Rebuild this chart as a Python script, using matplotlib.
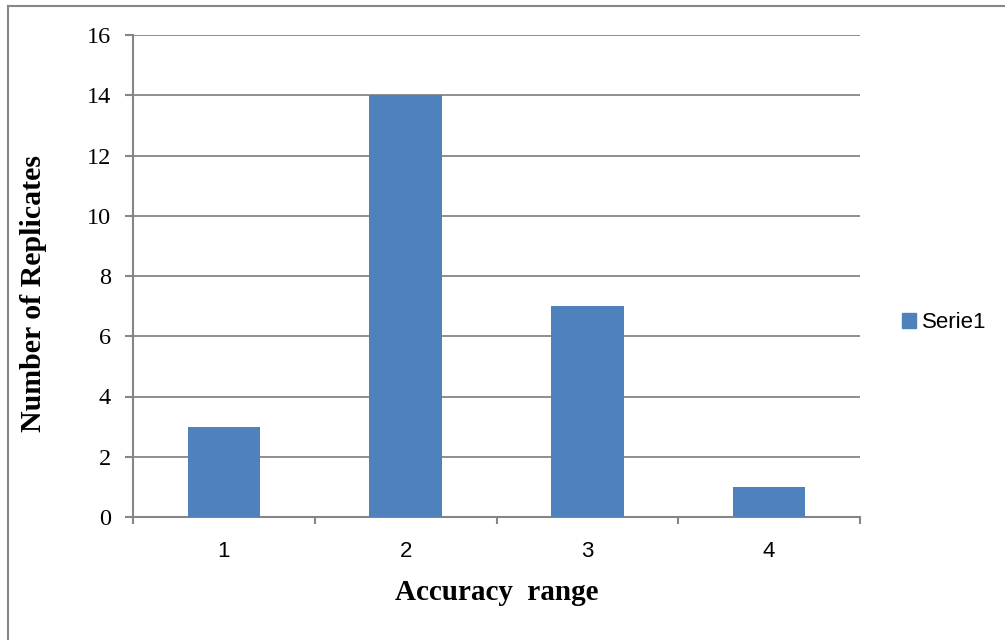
import matplotlib
matplotlib.use("Agg")
import matplotlib.pyplot as plt
from matplotlib.lines import Line2D
from matplotlib.patches import Patch

categories = ["1", "2", "3", "4"]
values = [3, 14, 7, 1]
yticks = [0, 2, 4, 6, 8, 10, 12, 14, 16]
series_name = "Serie1"

bar_color = "#4F81BD"
grid_color = "#868686"

fig = plt.figure(figsize=(10.05, 6.4), dpi=100)
ax = fig.add_axes([133/1005, 1-517/640, 727/1005, 482/640])

x = list(range(len(categories)))
ax.bar(x, values, width=0.40, color=bar_color, zorder=3)
ax.set_xlim(-0.5, len(categories) - 0.5)
ax.set_ylim(0, 16)

ax.set_yticks(yticks)
ax.set_yticklabels([str(v) for v in yticks], family="Liberation Serif", fontsize=17.5)
ax.tick_params(axis="y", length=5.8, width=1.5, color=grid_color, pad=10)
ax.yaxis.grid(True, color=grid_color, linewidth=1.3, zorder=0)

ax.set_xticks(x)
ax.set_xticklabels(categories, family="Liberation Sans", fontsize=16)
ax.tick_params(axis="x", length=0, pad=17)
# category boundary ticks
ax.set_xticks([i - 0.5 for i in range(len(categories) + 1)], minor=True)
ax.tick_params(axis="x", which="minor", length=5, width=1.5, color=grid_color)

for side in ["top", "right"]:
    ax.spines[side].set_visible(False)
for side in ["left", "bottom"]:
    ax.spines[side].set_color(grid_color)
    ax.spines[side].set_linewidth(1.5)

ax.set_ylabel("Number of Replicates", family="Liberation Serif", fontweight="bold",
              fontsize=21.5)
ax.yaxis.set_label_coords(-(133 - 34) / 727, (517 - 294) / 482)
ax.set_xlabel("Accuracy  range", family="Liberation Serif", fontweight="bold",
              fontsize=21)
ax.xaxis.set_label_coords(0.5, -(592 - 517) / 482)
ax.xaxis.label.set_va("center")
ax.yaxis.label.set_va("center")

leg = fig.legend(handles=[Patch(color=bar_color, label=series_name)],
                 loc="center left", bbox_to_anchor=(884/1005, 1-323/640),
                 frameon=False, prop={"family": "Liberation Sans", "size": 16},
                 handlelength=0.63, handleheight=0.63, handletextpad=0.3,
                 borderpad=0.3)

# outer chart border (top and left visible)
fig.add_artist(Line2D([7.5/1005, 7.5/1005], [0, 1-5.5/640], color=grid_color, lw=1.5,
                      transform=fig.transFigure))
fig.add_artist(Line2D([7.5/1005, 1], [1-5.5/640, 1-5.5/640], color=grid_color, lw=1.5,
                      transform=fig.transFigure))

fig.savefig("out.png", dpi=100)
